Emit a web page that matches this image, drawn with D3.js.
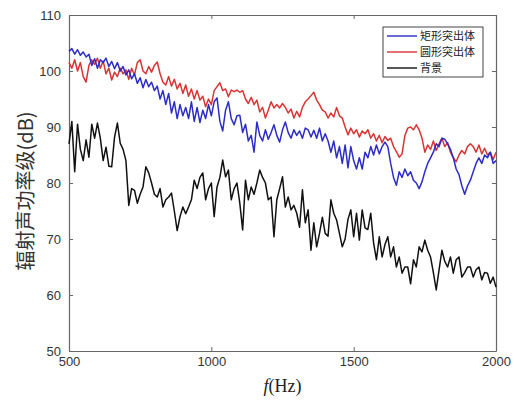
<!DOCTYPE html>
<html>
<head>
<meta charset="utf-8">
<script src="https://cdn.jsdelivr.net/npm/d3@7"></script>
<style>
  html, body { margin: 0; padding: 0; background: #fff; }
  svg { display: block; }
  .tick text { font-family: "Liberation Sans", Arial, sans-serif; font-size: 13px; fill: #333; }
</style>
</head>
<body>
<svg id="chart" width="514" height="403"></svg>
<script>
// Frequency grid (Hz), 10 Hz spacing from 500 to 2000
const freqStart = 500, freqStep = 10;

// Radiated sound power level (dB) for the rectangular protrusion
const rectProtrusion = [
  103.5,104,103,103.8,102.8,103.4,102.5,103,101,102.2,
  100.5,102,101.5,102.3,100.8,101.7,100.4,101.5,100,100.8,
  99.3,100.2,98.6,99.5,97.8,98.8,97,98.5,97.2,98,
  96.5,97.3,95,96.5,94,96,92.5,94.5,91.5,94,
  92,93.5,91.5,94.5,91,93.5,90.8,93,91.5,94,
  92,94.5,95.2,91,89.3,93,94.5,91.5,90.4,92,
  92.1,89,90.5,87.5,88.5,85.5,90.9,88.5,87.5,89.5,
  87.8,89,90.4,88.5,87.3,89.5,90.9,89,88,89.5,
  88.5,89.3,88,89.8,89.5,88.2,89.4,88,89.8,87.5,
  88.8,87.5,85.5,87.5,84.5,86.5,83.5,86.8,82.7,86.5,
  84,82.5,84.5,82.5,85.5,84.5,86.5,85,86.8,85.2,
  86.5,87.3,86.5,83.5,81,79.6,82,81,82.5,81.3,
  82,80.5,80,79,80.2,82,83.5,84.5,85.5,87,
  86.5,88,87.8,87,86,84.5,82.5,81.5,79.5,78,
  79.5,80.5,82,83.5,84.5,83.5,85,84.5,85.5,83.5,
  84
];

// Radiated sound power level (dB) for the circular protrusion
const circProtrusion = [
  101.5,100.5,102,100,101.5,99,98,101,102,101.2,
  102.3,100.5,101.8,99.5,100.5,98.4,99.8,99,100.5,99.5,
  100.2,98.5,100.5,99.3,101.5,102,100,99.5,100.8,99.8,
  101,101.6,99.5,98,97.5,99,97.3,98.5,96.8,97.8,
  96,97.5,95.5,96.8,95,96.5,94.8,95.5,93.6,95,
  94,96.5,97.2,97.9,96.5,96.8,95.4,96.6,96.3,96.6,
  96.2,96.5,95,94.2,95.3,94,94.8,92.7,93.5,91.6,
  93,94.5,93.4,94,93.4,94.2,93.5,92.5,93.2,91.6,
  92.8,91.8,93.5,94.5,95,95.6,96.2,94.8,94,93,
  92.7,91.6,92.5,91.8,93.5,92,91.6,90,88.6,89.8,
  88.8,89.5,88.2,89.3,88.8,89.5,88,88.8,87.5,88.5,
  87.2,88.3,87.6,88,86.5,85.6,84.6,85.2,88.5,89.8,
  90,89.5,90.4,89.5,88,85.5,86.8,86,87.5,85.8,
  87,88,86.5,87.2,85.5,84.5,83.8,85,85.8,85.2,
  86.5,87,86.5,85.5,86.8,85.2,86.2,85,85.5,84.2,
  85.5
];

// Background level (dB)
const background = [
  87,91,82,90.5,86,84,87.7,84.6,90.5,88,
  90.7,88,84,86.4,83,82.9,88.2,90.7,87.1,86,
  84,76,79,78.7,76.4,78,79.3,82.9,81.8,80,
  78,77.5,79,75.7,77,77.5,78.2,75,71.5,74,
  75.7,74.5,75.7,77,80.5,79,81,81.8,77,79,
  80,74,79.3,81,84.1,81.1,82.3,77,79,80,
  76.4,71.6,80.5,77,79.3,78,80,82.3,81,80,
  77,77.5,70.4,77,79,81.1,75.7,77.5,75.2,76,
  74.6,72.1,78.8,72.9,75.2,68,72.9,68.6,71,73.9,
  71,70.5,77,74.6,73.4,71,68.6,70,73.5,75.2,
  70.4,74.6,69.8,75.2,72,71.7,74.6,69.3,66.3,70.4,
  66.8,69,70.4,66.8,68.6,65,66.8,63.9,65,65,
  62,66.3,65,68.6,67.7,69.8,68,66.8,64,60.9,
  64.5,68,66,65,66.8,63.9,66.3,66.8,63.2,64,
  65,65,63.2,64.5,65,62.7,64,63.9,62.1,63.2,
  61.4
];

const xTicks = [500, 1000, 1500, 2000];
const yTicks = [50, 60, 70, 80, 90, 100, 110];
const seriesNames = ["矩形突出体", "圆形突出体", "背景"];
const seriesColors = ["#2c2cc8", "#d83434", "#111111"];

const svg = d3.select("#chart");
const plot = { left: 69, right: 496, top: 15, bottom: 351 };

const x = d3.scaleLinear().domain([500, 2000]).range([plot.left, plot.right]);
const y = d3.scaleLinear().domain([50, 110]).range([plot.bottom, plot.top]);

const axisColor = "#666";
const fmt = d3.format("d");

// Axes with inward ticks on all four sides
const gx = svg.append("g").attr("transform", `translate(0,${plot.bottom})`)
  .call(d3.axisBottom(x).tickValues(xTicks).tickFormat(fmt).tickSizeInner(-4).tickSizeOuter(0).tickPadding(8));
const gxTop = svg.append("g").attr("transform", `translate(0,${plot.top})`)
  .call(d3.axisTop(x).tickValues(xTicks).tickSizeInner(-4).tickSizeOuter(0).tickFormat(""));
const gy = svg.append("g").attr("transform", `translate(${plot.left},0)`)
  .call(d3.axisLeft(y).tickValues(yTicks).tickFormat(fmt).tickSizeInner(-4).tickSizeOuter(0).tickPadding(8));
const gyRight = svg.append("g").attr("transform", `translate(${plot.right},0)`)
  .call(d3.axisRight(y).tickValues(yTicks).tickSizeInner(-4).tickSizeOuter(0).tickFormat(""));

[gx, gxTop, gy, gyRight].forEach(g => {
  g.select(".domain").attr("stroke", axisColor).attr("stroke-width", 1.2);
  g.selectAll(".tick line").attr("stroke", axisColor);
});
gx.selectAll(".tick text").attr("dy", "0.5em");

// Series lines
const allSeries = [rectProtrusion, circProtrusion, background];
const line = d3.line()
  .x((d, i) => x(freqStart + i * freqStep))
  .y(d => y(d));

// Draw background first, then red, then blue on top
[2, 1, 0].forEach(k => {
  svg.append("path")
    .datum(allSeries[k])
    .attr("fill", "none")
    .attr("stroke", seriesColors[k])
    .attr("stroke-width", 1.5)
    .attr("stroke-linejoin", "round")
    .attr("d", line);
});

// Legend
const legend = svg.append("g").attr("transform", "translate(383,27)");
legend.append("rect")
  .attr("width", 100).attr("height", 50)
  .attr("fill", "#fff").attr("stroke", "#444").attr("stroke-width", 1);
seriesNames.forEach((name, i) => {
  const ly = 9 + i * 16;
  legend.append("line")
    .attr("x1", 4).attr("x2", 34).attr("y1", ly).attr("y2", ly)
    .attr("stroke", seriesColors[i]).attr("stroke-width", 1.4);
  legend.append("text")
    .attr("x", 37).attr("y", ly).attr("dy", "0.35em")
    .attr("font-family", "'Noto Sans CJK SC', sans-serif")
    .attr("font-size", 11).attr("fill", "#222")
    .text(name);
});

// Axis titles
svg.append("text")
  .attr("transform", `translate(33,${(plot.top + plot.bottom) / 2 + 8}) rotate(-90)`)
  .attr("text-anchor", "middle")
  .attr("font-family", "'Noto Sans CJK SC', sans-serif")
  .attr("font-size", 20).attr("fill", "#333")
  .text("辐射声功率级(dB)");

const xt = svg.append("text")
  .attr("x", (plot.left + plot.right) / 2)
  .attr("y", 392)
  .attr("text-anchor", "middle")
  .attr("font-family", "'Liberation Serif', 'Times New Roman', serif")
  .attr("font-size", 18).attr("fill", "#222");
xt.append("tspan").attr("font-style", "italic").text("f");
xt.append("tspan").text("(Hz)");
</script>
</body>
</html>
